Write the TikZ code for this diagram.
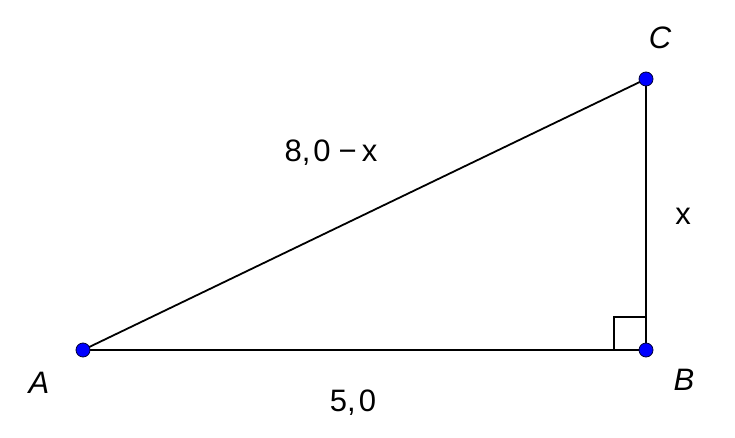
\documentclass[tikz,border=0pt]{standalone}
\usepackage{fontspec}
\setmainfont{Liberation Sans}
\begin{document}
\begin{tikzpicture}[x=1pt,y=-1pt,
  pt/.style={circle,fill=blue,draw=black!80!blue,line width=0.8pt,inner sep=0pt,minimum size=14pt},
  lbl/.style={inner sep=0pt,font=\fontsize{31}{36}\selectfont},
  side/.style={line width=1.8pt,black}]
\useasboundingbox (0,0) rectangle (735,438);
\coordinate (A) at (83,350);
\coordinate (B) at (646,350);
\coordinate (C) at (646,79);
\coordinate (S1) at (614,350);
\coordinate (S2) at (614,317);
\coordinate (S3) at (646,317);
\draw[side] (A) -- (B) -- (C) -- cycle;
\draw[line width=1.5pt] (S1) -- (S2) -- (S3);
\node[pt] (nA) at (A) {};
\node[pt] (nB) at (B) {};
\node[pt] (nC) at (C) {};
\node[lbl] (lA) at (39,383) {\itshape A};
\node[lbl] (lB) at (684,380) {\itshape B};
\node[lbl] (lC) at (660,38) {\itshape C};
\node[lbl] (lAC) at (331,153) {8,\kern3pt0\kern8pt−\kern5pt x};
\node[lbl] (lBC) at (683,216) {x};
\node[lbl] (lAB) at (353,403) {5,\kern3pt0};
\end{tikzpicture}
\end{document}
